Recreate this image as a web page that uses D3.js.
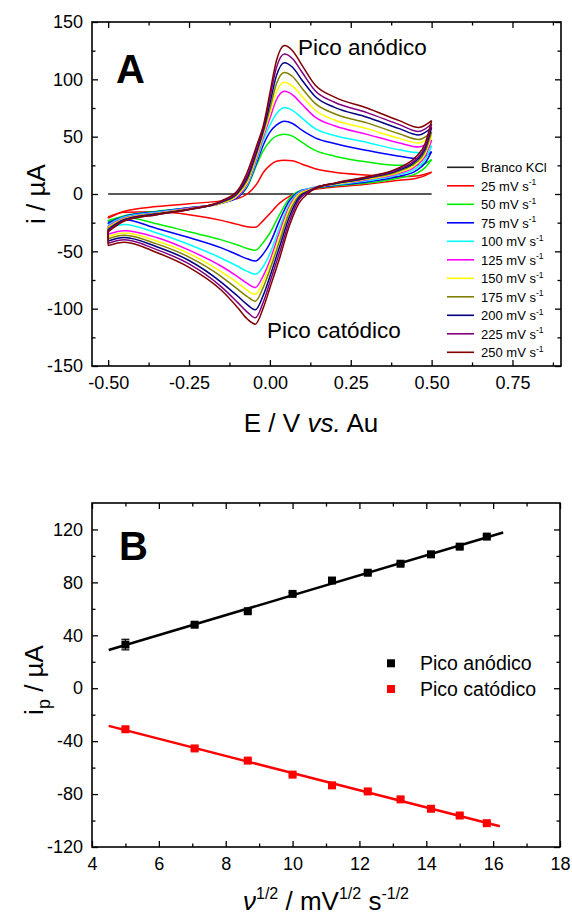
<!DOCTYPE html>
<html>
<head>
<meta charset="utf-8">
<title>Voltametria ciclica</title>
<style>
body { margin: 0; background: #fff; }
svg text { font-family: "Liberation Sans", Arial, sans-serif; fill: #000; }
.tick line { stroke: #000; stroke-width: 1.3; }
.frame { fill: none; stroke: #000; stroke-width: 1.6; }
</style>
</head>
<body>
<svg id="chart" width="572" height="917"></svg>

<script src="https://cdn.jsdelivr.net/npm/d3@7"></script>
<script>
// ---- Panel A data: potentials of the sampled points (V vs. Au)
var potForward = [-0.5, -0.45, -0.35, -0.25, -0.15, -0.1, -0.07, -0.04, -0.02, 0.0, 0.02, 0.045, 0.07, 0.1, 0.14, 0.2, 0.3, 0.4, 0.46, 0.5];
var potReverse = [0.5, 0.48, 0.45, 0.4, 0.3, 0.2, 0.15, 0.12, 0.09, 0.06, 0.03, 0.0, -0.02, -0.045, -0.07, -0.1, -0.15, -0.25, -0.35, -0.45, -0.5];

var scanRates = [25, 50, 75, 100, 125, 150, 175, 200, 225, 250];

// blank (KCl only)
var blankPot = [-0.5, 0.5];
var blankCurrent = [0, 0];

// forward (anodic) sweep currents, uA
var fwd25  = [-21, -15, -11, -8.5, -6, -4, 0, 9, 19, 25, 28.5, 29.5, 29, 26, 22, 19, 16.5, 15, 16, 19];
var fwd50  = [-24, -19, -15, -12, -8, -3, 6, 26, 38, 46, 50.5, 52, 50.5, 45, 38, 33, 28, 25, 25, 30];
var fwd75  = [-25, -19.5, -15.5, -12, -8, -3, 7, 28, 43, 54, 60, 63.5, 61.5, 55.5, 49, 44, 38, 33, 31, 37];
var fwd100 = [-27, -20, -16, -12.5, -8, -2, 8, 30, 47, 60, 70, 75.5, 73, 66, 57, 51, 45, 38.5, 36, 42];
var fwd125 = [-28, -21, -16.5, -12.5, -8, -2, 9, 32, 50, 66, 82, 89.5, 86.5, 78, 67, 59.5, 52, 44.5, 41, 47];
var fwd150 = [-29, -21.5, -17, -13, -8, -1, 10, 34, 52, 70, 89, 97.5, 94, 85, 73, 64.5, 57, 48.5, 44.5, 51];
var fwd175 = [-30, -22, -17, -13, -7.5, 0, 12, 36, 54, 74, 96, 106, 102.5, 92, 79, 70, 62, 52.5, 47.5, 54];
var fwd200 = [-31, -22.5, -17.5, -13.5, -7, 1, 14, 38, 56, 79, 103, 114.5, 110.5, 99, 85, 75.5, 67, 57, 51.5, 58];
var fwd225 = [-32, -23, -18, -13.5, -6.5, 2, 16, 40, 58, 84, 110, 122, 118, 106, 90, 80, 71, 60.5, 54.5, 61];
var fwd250 = [-33, -23.5, -18, -13.5, -6, 3, 19, 43, 60, 88, 116, 129.5, 125, 112, 95, 84.5, 75, 64, 58, 64];

// reverse (cathodic) sweep currents, uA
var rev25  = [19, 16, 13.5, 12, 8.5, 6, 4.5, 3, 1, -2, -8, -17, -23, -29, -28.5, -26.5, -23, -18, -15.5, -16, -20];
var rev50  = [30, 23, 17.5, 14, 9.5, 7, 5.5, 4, 2.5, -4, -18, -34, -42, -49, -47.5, -44.5, -40, -33, -26, -20, -23];
var rev75  = [37, 27, 20, 15.5, 10.5, 7.5, 6, 4.5, 2, -6, -23, -43, -52, -58.5, -56.5, -53, -47, -38, -30, -22.5, -26];
var rev100 = [42, 30, 22, 17, 11.5, 8, 6.5, 4.5, 1.5, -9, -29, -52, -63, -70, -67.5, -63, -56, -44, -34, -26.5, -30];
var rev125 = [47, 33, 24, 18, 12.5, 8.5, 6.5, 4, 0.5, -11, -33, -58, -71, -81.5, -78, -72, -63, -49, -38, -32, -35];
var rev150 = [51, 35, 25.5, 19, 13, 8.5, 6.5, 3.5, 0, -13, -37, -62, -76, -87.5, -84, -77.5, -68, -52, -41, -34, -37];
var rev175 = [54, 37, 27, 20, 13.5, 9, 6.5, 3, -1.5, -16, -41, -66, -81, -93.5, -89.5, -83, -72, -55, -43.5, -36, -39];
var rev200 = [58, 39.5, 28.5, 21, 14, 9, 6.5, 2.5, -3, -20, -46, -72, -88, -101, -96.5, -89, -77, -58, -46, -38, -41];
var rev225 = [61, 41.5, 30, 22, 14.5, 9.5, 6, 2, -5, -24, -51, -77, -94, -108, -103, -94.5, -81, -61, -48.5, -40, -43];
var rev250 = [64, 44, 32, 23, 15, 9.5, 6, 1, -8, -28, -56, -82, -99, -113.5, -109, -99, -84, -64, -51, -42, -45];

var forwardSweeps = [fwd25, fwd50, fwd75, fwd100, fwd125, fwd150, fwd175, fwd200, fwd225, fwd250];
var reverseSweeps = [rev25, rev50, rev75, rev100, rev125, rev150, rev175, rev200, rev225, rev250];

var curveColors = ['#ff0000', '#00ee00', '#0000ff', '#00ffff', '#ff00ff', '#ffff00', '#808000', '#000080', '#800080', '#800000'];
var blankColor = '#222';

var ticksAx = [-0.5, -0.25, 0, 0.25, 0.5, 0.75];
var ticksAxMinor = [-0.375, -0.125, 0.125, 0.375, 0.625, 0.875];
var ticksAy = [-150, -100, -50, 0, 50, 100, 150];
var ticksAyMinor = [-125, -75, -25, 25, 75, 125];

// ---- Panel B data
var sqrtScanRate = [5, 7.07, 8.66, 10, 11.18, 12.25, 13.23, 14.14, 15, 15.81];
var anodicPeak = [33, 48, 58.2, 71.3, 81.4, 87.3, 94.1, 101.2, 107, 114.6];
var anodicErr = [4, 1, 1, 1, 1, 1, 1, 1, 1, 1];
var cathodicPeak = [-31, -45.5, -54.7, -65.3, -73.4, -78, -84, -91.1, -96.2, -102];
var cathodicErr = [1, 1, 1, 1, 1, 1, 1, 1, 1, 1];
var fitRangeAnodic = [4.5, 16.3];
var fitRangeCathodic = [4.5, 16.2];

var ticksBx = [4, 6, 8, 10, 12, 14, 16, 18];
var ticksBxMinor = [5, 7, 9, 11, 13, 15, 17];
var ticksBy = [-120, -80, -40, 0, 40, 80, 120];
var ticksByMinor = [-100, -60, -20, 20, 60, 100];

var svg = d3.select('#chart');
svg.append('rect').attr('width', 572).attr('height', 917).attr('fill', '#fff');

// draws four inside-ticked axes and the frame
function drawAxes(g, x, y, xMajor, xMinor, yMajor, yMinor, xFmt, yFmt) {
	var xr = x.range(), yr = y.range();
	var x0 = xr[0], x1 = xr[1], yb = yr[0], yt = yr[1];

	function add(axis, tr) {
		var a = g.append('g').attr('transform', tr).call(axis);
		a.select('.domain').remove();
		a.attr('font-size', 18);
		return a;
	}
	add(d3.axisBottom(x).tickValues(xMajor).tickSize(-6).tickPadding(10.5).tickFormat(xFmt), 'translate(0,' + yb + ')');
	add(d3.axisBottom(x).tickValues(xMinor).tickSize(-3.5).tickFormat(''), 'translate(0,' + yb + ')');
	add(d3.axisTop(x).tickValues(xMajor).tickSize(-6).tickFormat(''), 'translate(0,' + yt + ')');
	add(d3.axisTop(x).tickValues(xMinor).tickSize(-3.5).tickFormat(''), 'translate(0,' + yt + ')');
	add(d3.axisLeft(y).tickValues(yMajor).tickSize(-6).tickPadding(9).tickFormat(yFmt), 'translate(' + x0 + ',0)');
	add(d3.axisLeft(y).tickValues(yMinor).tickSize(-3.5).tickFormat(''), 'translate(' + x0 + ',0)');
	add(d3.axisRight(y).tickValues(yMajor).tickSize(-6).tickFormat(''), 'translate(' + x1 + ',0)');
	add(d3.axisRight(y).tickValues(yMinor).tickSize(-3.5).tickFormat(''), 'translate(' + x1 + ',0)');

	g.append('rect').attr('class', 'frame')
		.attr('x', x0).attr('y', yt).attr('width', x1 - x0).attr('height', yb - yt);
}

// ================= Panel A =================
var xA = d3.scaleLinear().domain([-0.55, 0.9]).range([92, 561]);
var yA = d3.scaleLinear().domain([-150, 150]).range([366, 22]);
var gA = svg.append('g');

var smooth = d3.line().x(function(d) { return xA(d[0]); }).y(function(d) { return yA(d[1]); }).curve(d3.curveMonotoneX);
var straight = d3.line().x(function(d) { return xA(d[0]); }).y(function(d) { return yA(d[1]); });

gA.append('path')
	.attr('d', straight(blankPot.map(function(e, k) { return [e, blankCurrent[k]]; })))
	.attr('fill', 'none').attr('stroke', blankColor).attr('stroke-width', 1.6);

scanRates.forEach(function(rate, n) {
	var fwd = forwardSweeps[n], rev = reverseSweeps[n];
	var fPts = potForward.map(function(e, k) { return [e, fwd[k]]; });
	var rPts = potReverse.map(function(e, k) { return [e, rev[k]]; }).reverse();
	var c = gA.append('g').attr('fill', 'none').attr('stroke', curveColors[n]).attr('stroke-width', 1.5);
	c.append('path').attr('d', smooth(fPts));
	c.append('path').attr('d', smooth(rPts));
	c.append('path').attr('d', straight([[potReverse[potReverse.length - 1], rev[rev.length - 1]], [potForward[0], fwd[0]]]));
});

drawAxes(gA, xA, yA, ticksAx, ticksAxMinor, ticksAy, ticksAyMinor,
	function(d) { return d.toFixed(2); }, function(d) { return String(d); });

// legend A
var legA = gA.append('g').attr('font-size', 13);
var legRows = [{ label: 'Branco KCl', color: blankColor, sup: false }].concat(
	scanRates.map(function(r, n) { return { label: r + ' mV s', color: curveColors[n], sup: true }; }));
legRows.forEach(function(row, k) {
	var yy = 167.3 + k * 18.5;
	legA.append('line').attr('x1', 447).attr('x2', 474).attr('y1', yy).attr('y2', yy)
		.attr('stroke', row.color).attr('stroke-width', 1.6);
	var t = legA.append('text').attr('x', 481).attr('y', yy + 4.7).text(row.label);
	if (row.sup) t.append('tspan').attr('font-size', 8.5).attr('dy', -5.5).text('-1');
});

gA.append('text').attr('x', 116).attr('y', 83).attr('font-size', 40).attr('font-weight', 'bold').text('A');
gA.append('text').attr('x', 298).attr('y', 55).attr('font-size', 22.5).text('Pico anódico');
gA.append('text').attr('x', 267).attr('y', 338).attr('font-size', 22.5).text('Pico catódico');

var xtA = gA.append('text').attr('x', 311).attr('y', 432).attr('font-size', 26).attr('text-anchor', 'middle');
xtA.append('tspan').text('E / V ');
xtA.append('tspan').attr('font-style', 'italic').text('vs.');
xtA.append('tspan').text(' Au');

gA.append('text').attr('transform', 'translate(45,194) rotate(-90)')
	.attr('font-size', 26).attr('text-anchor', 'middle').text('i / µA');

// ================= Panel B =================
var xB = d3.scaleLinear().domain([4, 18]).range([92, 560]);
var yB = d3.scaleLinear().domain([-120, 140]).range([847, 503]);
var gB = svg.append('g');

function linFit(xs, ys) {
	var mx = d3.mean(xs), my = d3.mean(ys);
	var sxy = d3.sum(xs, function(v, k) { return (v - mx) * (ys[k] - my); });
	var sxx = d3.sum(xs, function(v) { return (v - mx) * (v - mx); });
	var b = sxy / sxx;
	return { slope: b, icpt: my - b * mx };
}

var lineB = d3.line().x(function(d) { return xB(d[0]); }).y(function(d) { return yB(d[1]); });

function series(vals, errs, range, color) {
	var f = linFit(sqrtScanRate, vals);
	gB.append('path')
		.attr('d', lineB(range.map(function(v) { return [v, f.icpt + f.slope * v]; })))
		.attr('fill', 'none').attr('stroke', color).attr('stroke-width', 2.5);
	var pts = gB.append('g').selectAll('g').data(sqrtScanRate).enter().append('g');
	pts.append('line')
		.attr('x1', function(d) { return xB(d); }).attr('x2', function(d) { return xB(d); })
		.attr('y1', function(d, k) { return yB(vals[k] - errs[k]); })
		.attr('y2', function(d, k) { return yB(vals[k] + errs[k]); })
		.attr('stroke', color).attr('stroke-width', 1.2);
	[-1, 1].forEach(function(s) {
		pts.append('line')
			.attr('x1', function(d) { return xB(d) - 4; }).attr('x2', function(d) { return xB(d) + 4; })
			.attr('y1', function(d, k) { return yB(vals[k] + s * errs[k]); })
			.attr('y2', function(d, k) { return yB(vals[k] + s * errs[k]); })
			.attr('stroke', color).attr('stroke-width', 1.2);
	});
	pts.append('rect')
		.attr('x', function(d) { return xB(d) - 4; })
		.attr('y', function(d, k) { return yB(vals[k]) - 4; })
		.attr('width', 8).attr('height', 8).attr('fill', color);
}
series(anodicPeak, anodicErr, fitRangeAnodic, '#000');
series(cathodicPeak, cathodicErr, fitRangeCathodic, '#ff0000');

drawAxes(gB, xB, yB, ticksBx, ticksBxMinor, ticksBy, ticksByMinor,
	function(d) { return String(d); }, function(d) { return String(d); });

// legend B
var legB = gB.append('g').attr('font-size', 19.5);
[['Pico anódico', '#000'], ['Pico catódico', '#ff0000']].forEach(function(row, k) {
	var yy = 663.3 + k * 25.7;
	legB.append('rect').attr('x', 387).attr('y', yy - 4).attr('width', 8).attr('height', 8).attr('fill', row[1]);
	legB.append('text').attr('x', 420).attr('y', yy + 7).text(row[0]);
});

gB.append('text').attr('x', 119).attr('y', 560).attr('font-size', 40).attr('font-weight', 'bold').text('B');

var xtB = gB.append('text').attr('x', 326).attr('y', 910).attr('font-size', 26).attr('text-anchor', 'middle');
xtB.append('tspan').attr('font-style', 'italic').text('ν');
xtB.append('tspan').attr('font-size', 16).attr('dy', -11).text('1/2');
xtB.append('tspan').attr('dy', 11).text(' / mV');
xtB.append('tspan').attr('font-size', 16).attr('dy', -11).text('1/2');
xtB.append('tspan').attr('dy', 11).text(' s');
xtB.append('tspan').attr('font-size', 16).attr('dy', -11).text('-1/2');

var ytB = gB.append('text').attr('transform', 'translate(43,680) rotate(-90)')
	.attr('font-size', 26).attr('text-anchor', 'middle');
ytB.append('tspan').text('i');
ytB.append('tspan').attr('font-size', 18).attr('dy', 7).text('p');
ytB.append('tspan').attr('dy', -7).text(' / µA');
</script>
</body>
</html>
